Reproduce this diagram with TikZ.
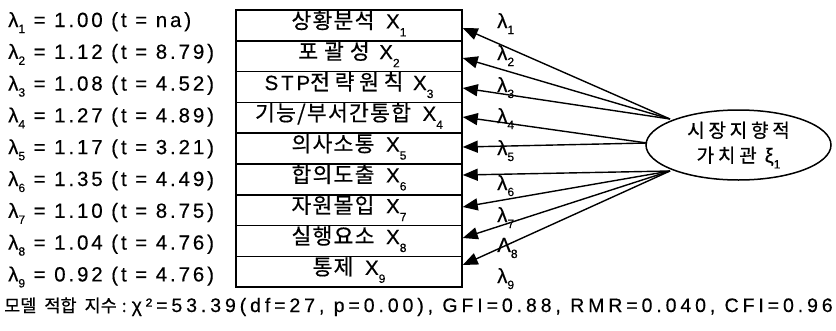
\documentclass[tikz,border=0pt]{standalone}
\usepackage{fontspec}
\setmainfont{Liberation Sans}
\newfontfamily\latf[LetterSpace=14,FakeBold=0.4]{Liberation Sans}
\newfontfamily\latb[LetterSpace=20,FakeBold=0.4]{Liberation Sans}
\newfontfamily\krf[LetterSpace=6,FakeBold=0.6]{Noto Sans CJK KR}
\newfontfamily\krw[LetterSpace=28,FakeBold=0.6]{Noto Sans CJK KR}
\newfontfamily\krv[LetterSpace=22,FakeBold=0.6]{Noto Sans CJK KR}
\newfontfamily\kre[LetterSpace=20,FakeBold=0.6]{Noto Sans CJK KR}
\newfontfamily\krb[FakeBold=0.6]{Noto Sans CJK KR}
\usetikzlibrary{arrows.meta,shapes.geometric}
\newcommand\lsub[1]{\raisebox{-6pt}{\fontsize{12}{12}\selectfont #1}}
\newcommand\bsub[1]{\raisebox{-8pt}{\fontsize{12}{12}\selectfont #1}}
\newcommand\kb{\fontsize{21.5}{24}\selectfont}
\begin{document}
\begin{tikzpicture}[x=1pt,y=-1pt,
  lamtext/.style={font=\latf\fontsize{20.5}{24}\selectfont, anchor=base west, inner sep=0pt},
  obsbox/.style={draw, line width=1.5pt, minimum width=226pt, minimum height=30.8pt,
     inner sep=0pt, text height=14pt, text depth=8pt, font=\latf\fontsize{20.5}{24}\selectfont},
  latent/.style={draw, ellipse, line width=1.5pt, minimum width=185pt, minimum height=70pt,
     inner sep=0pt, align=center, font=\kre\fontsize{19}{25}\selectfont},
  arr/.style={line width=1.4pt, -{Triangle[length=15pt,width=12pt]}},
  lamlab/.style={font=\latf\fontsize{20.5}{24}\selectfont, anchor=base west, inner sep=0pt},
  fit/.style={font=\latb\fontsize{19.5}{24}\selectfont, anchor=base west, inner sep=0pt}]
\useasboundingbox (0,0) rectangle (836,330);

% left loading texts
\node[lamtext] (l1) at (8,27.0) {λ\lsub{1} = 1.00 (t = na)};
\node[lamtext] (l2) at (8,58.8) {λ\lsub{2} = 1.12 (t = 8.79)};
\node[lamtext] (l3) at (8,90.6) {λ\lsub{3} = 1.08 (t = 4.52)};
\node[lamtext] (l4) at (8,122.4) {λ\lsub{4} = 1.27 (t = 4.89)};
\node[lamtext] (l5) at (8,154.2) {λ\lsub{5} = 1.17 (t = 3.21)};
\node[lamtext] (l6) at (8,186.0) {λ\lsub{6} = 1.35 (t = 4.49)};
\node[lamtext] (l7) at (8,217.8) {λ\lsub{7} = 1.10 (t = 8.75)};
\node[lamtext] (l8) at (8,249.6) {λ\lsub{8} = 1.04 (t = 4.76)};
\node[lamtext] (l9) at (8,281.4) {λ\lsub{9} = 0.92 (t = 4.76)};

% observed variable boxes
\node[obsbox] (b1) at (349,25.4) {{\krf\kb 상황분석}\hspace{3pt} X\bsub{1}};
\node[obsbox] (b2) at (349,56.2) {{\krw\kb 포괄성}\hspace{1pt} X\bsub{2}};
\node[obsbox] (b3) at (349,87.0) {STP{\krv\kb 전략원칙}\hspace{1pt} X\bsub{3}};
\node[obsbox] (b4) at (349,117.8) {{\krf\kb 기능/부서간통합}\hspace{3pt} X\bsub{4}};
\node[obsbox] (b5) at (349,148.6) {{\krf\kb 의사소통}\hspace{3pt} X\bsub{5}};
\node[obsbox] (b6) at (349,179.4) {{\krf\kb 합의도출}\hspace{3pt} X\bsub{6}};
\node[obsbox] (b7) at (349,210.2) {{\krf\kb 자원몰입}\hspace{3pt} X\bsub{7}};
\node[obsbox] (b8) at (349,241.0) {{\krf\kb 실행요소}\hspace{3pt} X\bsub{8}};
\node[obsbox] (b9) at (349,271.8) {{\krf\kb 통제}\hspace{3pt} X\bsub{9}};

% latent variable
\node[latent] (xi) at (738.5,145) {시장지향적\\가치관 {\latf\fontsize{20}{24}\selectfont ξ\lsub{1}}};

\coordinate (st) at (670,119);
\coordinate (sm) at (647,143);
\coordinate (sb) at (670,171);

\draw[arr] (st) -- ([yshift=-2.6pt]b1.east);
\draw[arr] (st) -- ([yshift=-1.8pt]b2.east);
\draw[arr] (st) -- ([yshift=-1pt]b3.east);
\draw[arr] (sm) -- ([yshift=0.8pt]b4.east);
\draw[arr] (sm) -- ([yshift=1.6pt]b5.east);
\draw[arr] (sb) -- ([yshift=4.4pt]b6.east);
\draw[arr] (sb) -- ([yshift=3.2pt]b7.east);
\draw[arr] (sb) -- ([yshift=3pt]b8.east);
\draw[arr] (sb) -- ([yshift=6.8pt]b9.east);

% loading labels
\node[lamlab] (m1) at (497,28) {λ\lsub{1}};
\node[lamlab] (m2) at (497,60) {λ\lsub{2}};
\node[lamlab] (m3) at (497,92) {λ\lsub{3}};
\node[lamlab] (m4) at (497,123) {λ\lsub{4}};
\node[lamlab] (m5) at (497,155) {λ\lsub{5}};
\node[lamlab] (m6) at (497,190) {λ\lsub{6}};
\node[lamlab] (m7) at (497,222) {λ\lsub{7}};
\node[lamlab] (m8) at (497,252) {Λ\lsub{8}};
\node[lamlab] (m9) at (497,283) {λ\lsub{9}};

% fit indices
\node[fit] (fi) at (4,312) {{\krb\fontsize{17.5}{18}\selectfont 모델\hspace{8pt}적합\hspace{8pt}지수\hspace{5pt}:}\hspace{5pt}χ²=53.39(df=27, p=0.00), GFI=0.88, RMR=0.040, CFI=0.96};
\end{tikzpicture}
\end{document}
